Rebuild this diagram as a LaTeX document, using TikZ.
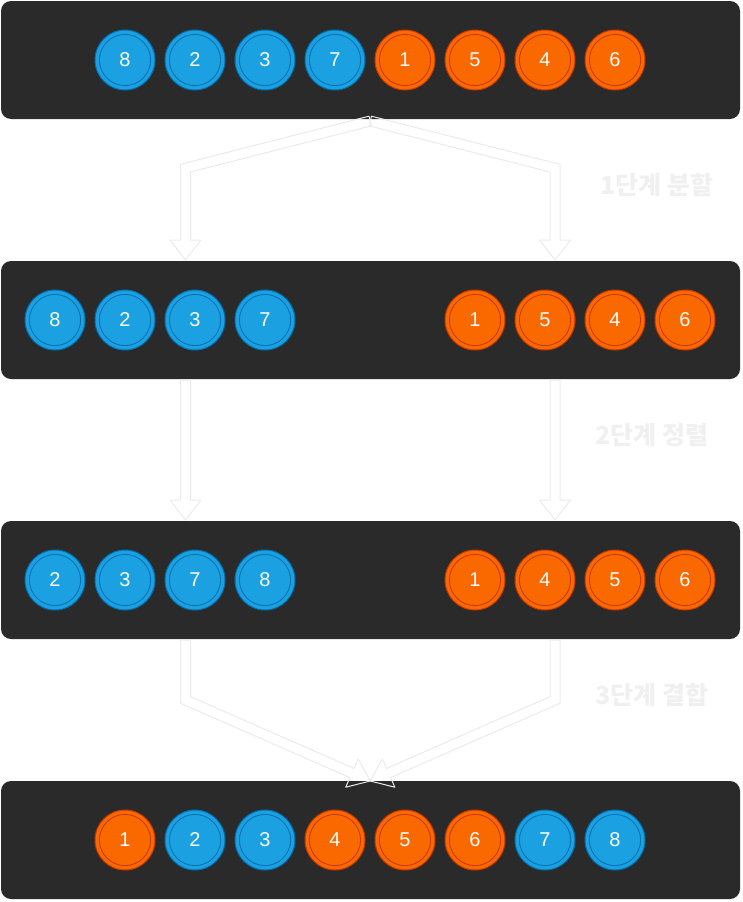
\documentclass[tikz,border=0pt]{standalone}
\usepackage{fontspec}
\setmainfont{Liberation Sans}
\newfontfamily\krfont{Noto Sans CJK KR}
\usetikzlibrary{calc}
\usepackage{xcolor}

\definecolor{panelbg}{HTML}{2A2A2A}
\definecolor{numblue}{HTML}{1BA1E2}
\definecolor{blueline}{HTML}{006EAF}
\definecolor{numorange}{HTML}{FA6800}
\definecolor{orangeline}{HTML}{C73500}
\definecolor{flowline}{HTML}{EBEBEB}
\definecolor{steptext}{HTML}{F0F0F0}

\tikzset{
    panel/.style={rectangle, rounded corners=10pt, fill=panelbg, minimum width=739pt,
        minimum height=118pt, inner sep=0pt, outer sep=0pt},
    ball/.style={circle, minimum size=60pt, inner sep=0pt, line width=1pt,
        text=white, font=\fontsize{20}{20}\selectfont},
    bluenum/.style={ball, fill=numblue, draw=blueline,
        path picture={\draw[blueline, line width=0.8pt] (path picture bounding box.center) circle (25.6pt);}},
    orangenum/.style={ball, fill=numorange, draw=orangeline,
        path picture={\draw[orangeline, line width=0.8pt] (path picture bounding box.center) circle (25.6pt);}},
    flow/.style={draw=flowline, line width=1pt, line join=round},
    steplabel/.style={text=steptext, font=\krfont\bfseries\fontsize{25}{25}\selectfont}
}

\begin{document}
\begin{tikzpicture}[x=1pt, y=-1pt]
    \useasboundingbox (0,0) rectangle (742,902);

    % --- Dark panels, one per stage ---
    \foreach \n/\y in {p1/60, p2/320, p3/580, p4/840}
        \node[panel] (\n) at (370.5,\y) {};

    % --- Step 1: split (hollow arrows from the apex) ---
    \draw[flow] (369,116.2) -- (180.5,164.3) -- (180.5,240) -- (170,240) -- (185.5,260)
        -- (201,240) -- (190.5,240) -- (190.5,172) -- (371.5,125.8) -- cycle;
    \draw[flow] (371.5,116.2) -- (560,164.3) -- (560,240) -- (570.5,240) -- (555,260)
        -- (539.5,240) -- (550,240) -- (550,172) -- (369,125.8) -- cycle;

    % --- Step 2: sort (straight arrows) ---
    \draw[flow] (180.5,380) -- (180.5,500) -- (170,500) -- (185.5,520) -- (201,500)
        -- (190.5,500) -- (190.5,380) -- cycle;
    \draw[flow] (560,380) -- (560,500) -- (570.5,500) -- (555,520) -- (539.5,500)
        -- (550,500) -- (550,380) -- cycle;

    % --- Step 3: merge (arrows meeting at one tip) ---
    \draw[flow] (180.5,640) -- (180.5,703.3) -- (349.9,777.55) -- (345.7,787.2) -- (370.25,781)
        -- (358.15,758.8) -- (353.94,768.39) -- (190.5,696.7) -- (190.5,640) -- cycle;
    \draw[flow] (560,640) -- (560,703.3) -- (390.6,777.55) -- (394.8,787.2) -- (370.25,781)
        -- (382.35,758.8) -- (386.56,768.39) -- (550,696.7) -- (550,640) -- cycle;

    % --- Step labels ---
    \node[steplabel] (s1) at (657,185) {1단계 분할};
    \node[steplabel] (s2) at (652,435) {2단계 정렬};
    \node[steplabel] (s3) at (652,695) {3단계 결합};

    % --- Row 1: input ---
    \foreach \i/\x/\v/\s in {1/125/8/bluenum, 2/195/2/bluenum, 3/265/3/bluenum, 4/335/7/bluenum,
                             5/405/1/orangenum, 6/475/5/orangenum, 7/545/4/orangenum, 8/615/6/orangenum}
        \node[\s] (a\i) at (\x,60) {\v};

    % --- Row 2: two halves ---
    \foreach \i/\x/\v/\s in {1/55/8/bluenum, 2/125/2/bluenum, 3/195/3/bluenum, 4/265/7/bluenum,
                             5/475/1/orangenum, 6/545/5/orangenum, 7/615/4/orangenum, 8/685/6/orangenum}
        \node[\s] (b\i) at (\x,320) {\v};

    % --- Row 3: halves sorted ---
    \foreach \i/\x/\v/\s in {1/55/2/bluenum, 2/125/3/bluenum, 3/195/7/bluenum, 4/265/8/bluenum,
                             5/475/1/orangenum, 6/545/4/orangenum, 7/615/5/orangenum, 8/685/6/orangenum}
        \node[\s] (c\i) at (\x,580) {\v};

    % --- Row 4: merged ---
    \foreach \i/\x/\v/\s in {1/125/1/orangenum, 2/195/2/bluenum, 3/265/3/bluenum, 4/335/4/orangenum,
                             5/405/5/orangenum, 6/475/6/orangenum, 7/545/7/bluenum, 8/615/8/bluenum}
        \node[\s] (d\i) at (\x,840) {\v};
\end{tikzpicture}
\end{document}
